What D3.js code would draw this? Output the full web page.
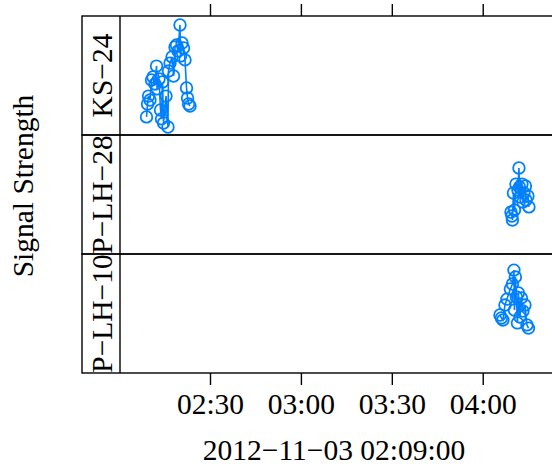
<!DOCTYPE html>
<html>
<head>
<meta charset="utf-8">
<script src="https://cdn.jsdelivr.net/npm/d3@7"></script>
<style>
  html, body { margin: 0; padding: 0; background: #fff; }
  svg text { font-family: "Liberation Serif", "Times New Roman", serif; fill: #000; }
</style>
</head>
<body>
<svg id="chart" width="552" height="470"></svg>
<script>
// Panels, in top-to-bottom order
const stations = ["KS\u221224", "P\u2212LH\u221228", "P\u2212LH\u221210"];

// Readings per station: time of day (2012-11-03) and signal strength
const timesKS24 = ["02:09:03","02:09:23","02:09:43","02:10:12","02:10:42","02:11:12","02:11:51","02:12:21",
  "02:12:31","02:13:10","02:13:40","02:14:00","02:14:20","02:14:40","02:15:29","02:16:08","02:16:18",
  "02:16:48","02:17:28","02:17:58","02:18:27","02:18:57","02:19:27","02:20:06","02:20:16","02:20:46",
  "02:21:16","02:21:45","02:22:15","02:22:35","02:22:56","02:23:24"];
const valuesKS24 = [-92.7,-87.5,-84.3,-85.9,-77.8,-76.6,-79.4,-72.2,-81.4,-77.4,-89.9,-93.5,-78.6,-95.2,
  -84.3,-96.8,-74.2,-71.0,-68.5,-76.2,-64.5,-63.7,-66.1,-55.6,-68.1,-62.9,-64.9,-69.7,-81.0,-85.1,-87.5,-88.3];

const timesPLH28 = ["04:09:19","04:09:38","04:09:48","04:10:08","04:10:28","04:10:58","04:11:37","04:11:57",
  "04:12:07","04:12:26","04:12:56","04:13:16","04:13:36","04:14:05","04:14:15","04:14:55","04:15:15"];
const valuesPLH28 = [-83.1,-84.7,-86.3,-75.4,-82.3,-71.8,-74.2,-65.3,-73.0,-77.0,-71.8,-79.0,-75.4,-72.6,
  -78.2,-76.6,-81.0];

const timesPLH10 = ["04:05:41","04:06:10","04:06:40","04:07:20","04:07:59","04:09:08","04:09:48","04:10:18",
  "04:10:28","04:10:47","04:11:07","04:11:27","04:11:47","04:12:17","04:12:46","04:13:16","04:13:56",
  "04:14:35","04:15:05"];
const valuesPLH10 = [-76.6,-77.8,-78.6,-72.6,-70.2,-66.1,-64.1,-58.5,-74.6,-61.3,-69.3,-79.8,-67.7,-77.4,
  -69.7,-75.0,-72.6,-80.6,-81.9];

// Axis settings
const xDomainTimes = ["02:00:18", "04:25:30"];
const xTickTimes = ["02:30:00", "03:00:00", "03:30:00", "04:00:00"];
const yDomain = [-100, -52];
const xAxisTitle = "2012\u221211\u221203 02:09:00";
const yAxisTitle = "Signal Strength";

const parseT = d3.timeParse("%Y-%m-%d %H:%M:%S");
const toDate = s => parseT("2012-11-03 " + s);

const seriesTimes = [timesKS24, timesPLH28, timesPLH10];
const seriesValues = [valuesKS24, valuesPLH28, valuesPLH10];
const panels = stations.map((name, i) => ({
  name,
  points: seriesTimes[i].map((t, j) => ({ t: toDate(t), v: seriesValues[i][j] }))
}));

// Layout
const stripLeft = 82, panelLeft = 120, panelRight = 560;
const panelTop = 16, panelH = 119;
const font = 29.5;
const blue = "#0080ff";

const svg = d3.select("#chart");
svg.append("rect").attr("width", 552).attr("height", 470).attr("fill", "#fff");

const x = d3.scaleTime().domain(xDomainTimes.map(toDate)).range([panelLeft, panelRight]);
const y = d3.scaleLinear().domain(yDomain).range([panelH, 0]);
const line = d3.line().x(d => x(d.t)).y(d => y(d.v));

const defs = svg.append("defs");

panels.forEach((p, i) => {
  const y0 = panelTop + i * panelH;
  const g = svg.append("g");

  // strip clip + label
  const clipId = "strip" + i;
  defs.append("clipPath").attr("id", clipId)
    .append("rect").attr("x", stripLeft).attr("y", y0).attr("width", panelLeft - stripLeft).attr("height", panelH);
  g.append("g").attr("clip-path", `url(#${clipId})`)
    .append("text")
    .attr("transform", `translate(${111.5},${y0 + panelH / 2}) rotate(-90)`)
    .attr("text-anchor", "middle")
    .attr("font-size", font)
    .text(p.name);

  // data
  const pg = g.append("g").attr("transform", `translate(0,${y0})`);
  pg.append("path").datum(p.points)
    .attr("d", line).attr("fill", "none").attr("stroke", blue).attr("stroke-width", 1.6);
  pg.selectAll("circle").data(p.points).join("circle")
    .attr("cx", d => x(d.t)).attr("cy", d => y(d.v)).attr("r", 5.8)
    .attr("fill", "none").attr("stroke", blue).attr("stroke-width", 1.8);

  // frames
  g.append("rect").attr("x", stripLeft).attr("y", y0).attr("width", panelRight - stripLeft).attr("height", panelH)
    .attr("fill", "none").attr("stroke", "#000").attr("stroke-width", 1.4);
  g.append("line").attr("x1", panelLeft).attr("x2", panelLeft).attr("y1", y0).attr("y2", y0 + panelH)
    .attr("stroke", "#000").attr("stroke-width", 1.4);
});

// Axes: ticks above the top panel, ticks + labels below the bottom panel
const ticks = xTickTimes.map(toDate);
const fmt = d3.timeFormat("%H:%M");
const bottomY = panelTop + panels.length * panelH;

const topAxis = svg.append("g").attr("transform", `translate(0,${panelTop})`)
  .call(d3.axisTop(x).tickValues(ticks).tickSize(12).tickFormat(""));
const bottomAxis = svg.append("g").attr("transform", `translate(0,${bottomY})`)
  .call(d3.axisBottom(x).tickValues(ticks).tickSize(12).tickPadding(8).tickFormat(fmt));
[topAxis, bottomAxis].forEach(a => {
  a.select(".domain").remove();
  a.selectAll(".tick line").attr("stroke", "#000").attr("stroke-width", 1.4);
});
bottomAxis.selectAll(".tick text")
  .attr("font-size", font).attr("font-family", "Liberation Serif, serif").attr("fill", "#000");

// Titles
svg.append("text").attr("x", 334).attr("y", 460).attr("text-anchor", "middle")
  .attr("font-size", font).text(xAxisTitle);
svg.append("text").attr("transform", "translate(33,186) rotate(-90)").attr("text-anchor", "middle")
  .attr("font-size", font).text(yAxisTitle);
</script>
</body>
</html>
